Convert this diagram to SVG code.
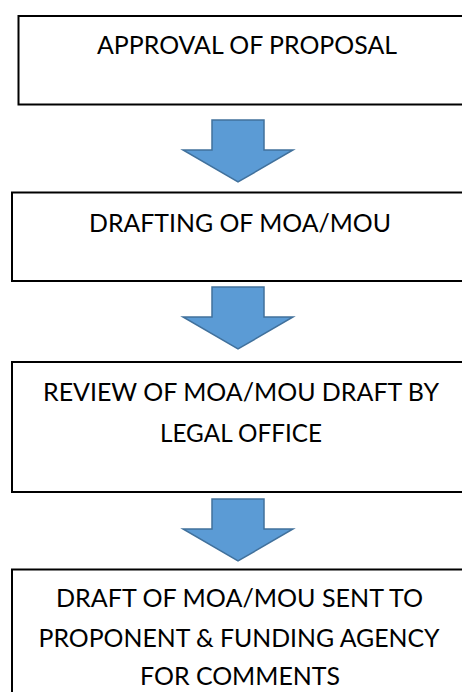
<svg xmlns="http://www.w3.org/2000/svg" width="462" height="692" viewBox="0 0 462 692">
<style>
.box{fill:#fff;stroke:#000;stroke-width:2}
.arr{fill:#5B9BD5;stroke:#41719C;stroke-width:1.5;stroke-linejoin:miter}
text{font-family:Lato,"Open Sans","Liberation Sans",sans-serif;font-size:25px;fill:#000;text-anchor:middle}
</style>
<rect width="462" height="692" fill="#fff"/>
<g id="connectors">
<path class="arr" d="M212,120 H264 V150 H293 L238,182 L183,150 H212 Z"/>
<path class="arr" d="M212,287 H264 V317 H293 L238,349 L183,317 H212 Z"/>
<path class="arr" d="M212,499 H264 V529 H293 L238,561 L183,529 H212 Z"/>
</g>
<g id="n1">
<rect class="box" x="18.5" y="16" width="460" height="88.5"/>
<text x="247" y="54" textLength="300" lengthAdjust="spacingAndGlyphs">APPROVAL OF PROPOSAL</text>
</g>
<g id="n2">
<rect class="box" x="12" y="192.5" width="460" height="88.5"/>
<text x="240" y="232" textLength="302" lengthAdjust="spacingAndGlyphs">DRAFTING OF MOA/MOU</text>
</g>
<g id="n3">
<rect class="box" x="12" y="362" width="460" height="130"/>
<text x="241" y="401" textLength="396" lengthAdjust="spacingAndGlyphs">REVIEW OF MOA/MOU DRAFT BY</text>
<text x="241" y="442" textLength="162" lengthAdjust="spacingAndGlyphs">LEGAL OFFICE</text>
</g>
<g id="n4">
<rect class="box" x="12" y="569.5" width="460" height="140"/>
<text x="239.5" y="607" textLength="367" lengthAdjust="spacingAndGlyphs">DRAFT OF MOA/MOU SENT TO</text>
<text x="239" y="647" textLength="401" lengthAdjust="spacingAndGlyphs">PROPONENT &amp; FUNDING AGENCY</text>
<text x="240" y="685" textLength="200" lengthAdjust="spacingAndGlyphs">FOR COMMENTS</text>
</g>
</svg>
